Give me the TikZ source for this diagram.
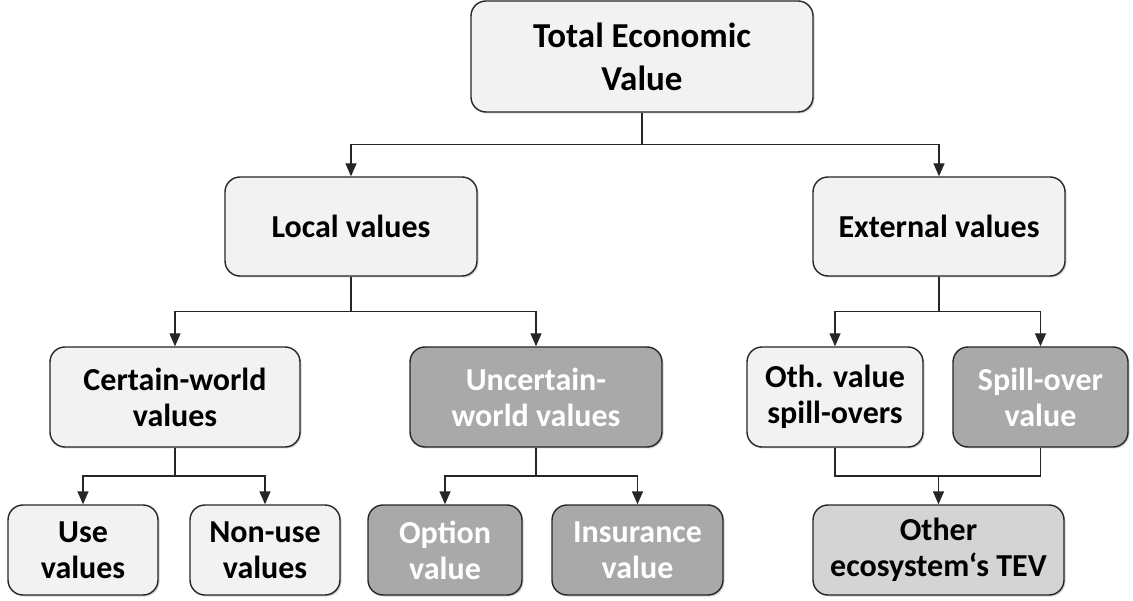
\documentclass[tikz,border=0pt]{standalone}
\usepackage{fontspec}
\setmainfont{Carlito}
\usetikzlibrary{arrows.meta,calc,shadows}
\definecolor{boxlight}{HTML}{F2F2F2}
\definecolor{boxdark}{HTML}{A9A9A9}
\definecolor{boxmid}{HTML}{D4D4D4}
\definecolor{edgegray}{HTML}{262626}

\begin{document}
\begin{tikzpicture}[x=1pt,y=-1pt,
  valbox/.style={draw=edgegray, line width=1.4pt, rounded corners=15pt,
    fill=boxlight, align=center, inner sep=0pt,
    font=\fontsize{32}{36}\selectfont\bfseries,
    drop shadow={shadow xshift=1.5pt, shadow yshift=-1.5pt, opacity=0.35}},
  darkbox/.style={valbox, fill=boxdark, text=white},
  midbox/.style={valbox, fill=boxmid},
  arr/.style={-{Triangle[length=13pt,width=11pt]}, line width=1.4pt, draw=edgegray},
  link/.style={line width=1.4pt, draw=edgegray}]
  \useasboundingbox (0,0) rectangle (1133,601);

  \node[valbox, minimum width=342, minimum height=111,
    font=\fontsize{35}{43}\selectfont\bfseries](tev) at (642,56.5){Total Economic\\Value};

  \node[valbox, minimum width=252, minimum height=99](loc) at (351,226.5){Local values};
  \node[valbox, minimum width=252, minimum height=99](ext) at (939,226.5){External values};

  \node[valbox, minimum width=250, minimum height=100](cert) at (175,397){Certain-world\\values};
  \node[darkbox, minimum width=252, minimum height=100](uncert) at (536,397){Uncertain-\\world values};
  \node[valbox, minimum width=176, minimum height=100](oth) at (835,397){Oth. value\\spill-overs};
  \node[darkbox, minimum width=175, minimum height=100](spill) at (1040.5,397){Spill-over\\value};

  \node[valbox, minimum width=150, minimum height=90](use) at (83,550){Use\\values};
  \node[valbox, minimum width=150, minimum height=90](nonuse) at (265,550){Non-use\\values};
  \node[darkbox, minimum width=154, minimum height=90](opt) at (445,550){Option\\value};
  \node[darkbox, minimum width=171, minimum height=90](ins) at (637.5,550){Insurance\\value};
  \node[midbox, minimum width=251, minimum height=90](otev) at (938.5,550){Other\\ecosystem‘s TEV};

  \foreach \p/\c in {tev/loc, tev/ext, loc/cert, loc/uncert, ext/oth, ext/spill,
                     cert/use, cert/nonuse, uncert/opt, uncert/ins}
    \draw[arr](\p.south)-- ($(\p.south)!.5!(\p.south|-\c.north)$) -|(\c.north);

  \coordinate(join) at ($(otev.north)!.5!(otev.north|-oth.south)$);
  \draw[link](oth.south)|-(join-|spill.south)--(spill.south);
  \draw[arr](join)--(otev.north);

\end{tikzpicture}
\end{document}
